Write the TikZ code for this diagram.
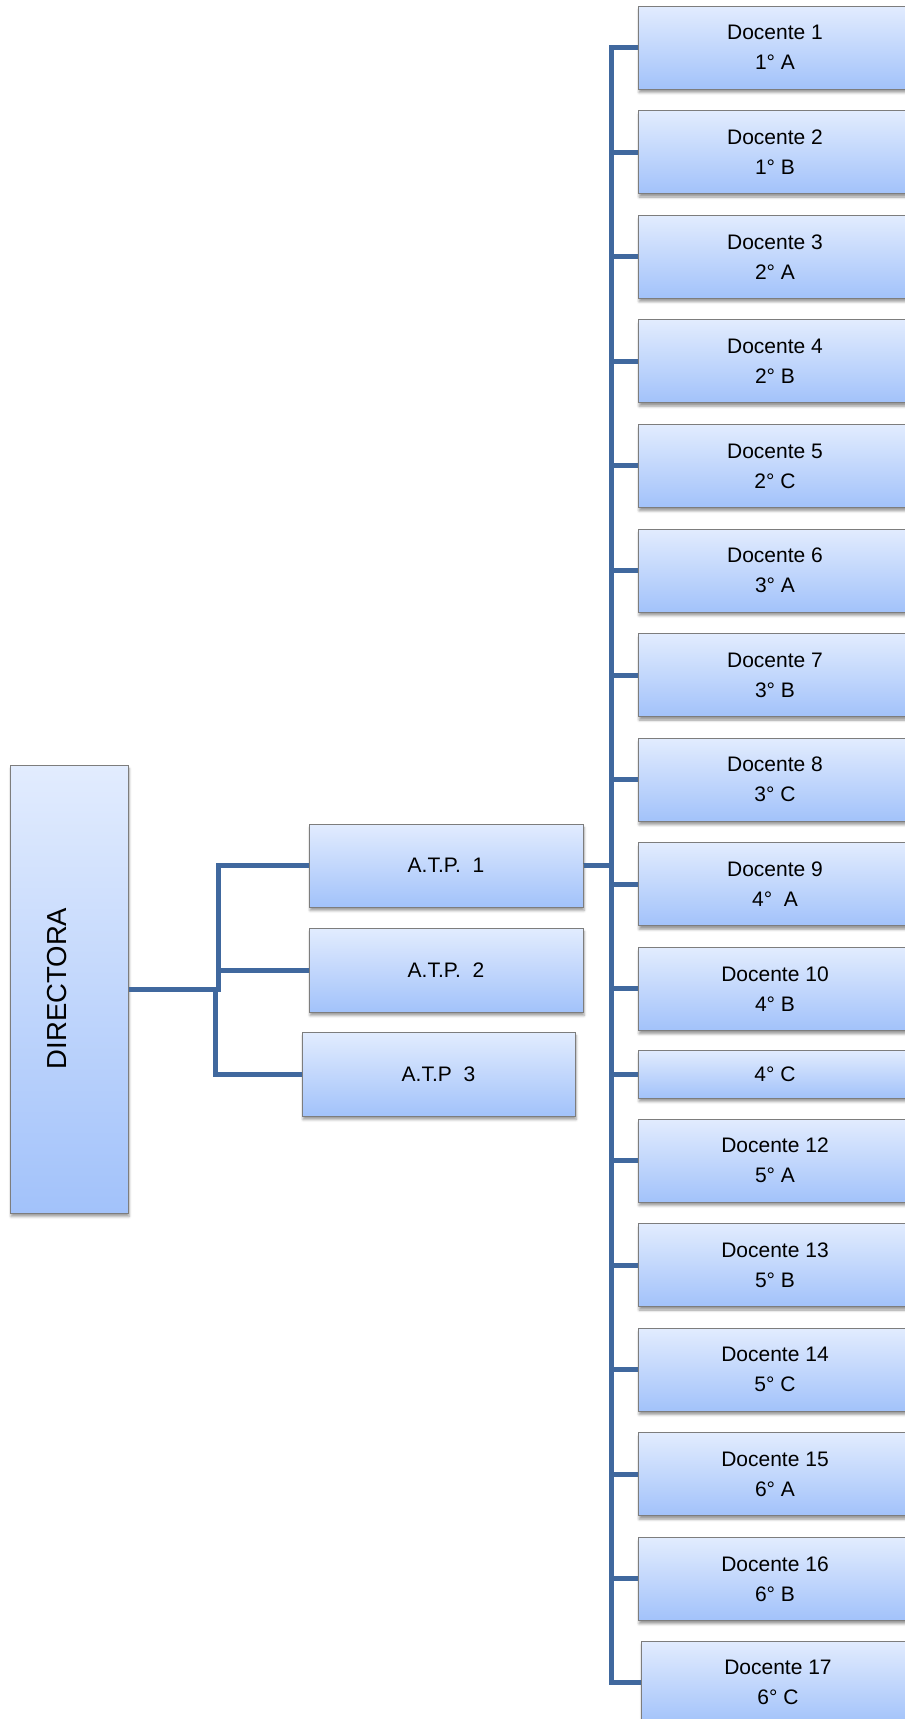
\documentclass[tikz,border=0pt]{standalone}
\usepackage{fontspec}
\setmainfont{Liberation Sans}
\usetikzlibrary{shadows.blur}
\definecolor{boxtop}{RGB}{226,236,254}
\definecolor{boxbot}{RGB}{162,194,250}
\definecolor{boxline}{RGB}{125,125,125}
\definecolor{conn}{RGB}{64,104,158}
\tikzset{
  orgbox/.style={draw=boxline, line width=1pt, top color=boxtop, bottom color=boxbot,
    inner sep=0pt, align=center, font=\fontsize{21}{30}\selectfont,
    blur shadow={shadow xshift=1pt, shadow yshift=-3.5pt, shadow blur radius=2.5pt, shadow opacity=40}},
  docbox/.style={orgbox, minimum width=274pt, minimum height=83pt},
  atpbox/.style={orgbox, minimum width=274pt, minimum height=83pt},
  link/.style={draw=conn, line width=5pt},
}
\begin{document}
\begin{tikzpicture}[x=1pt,y=-1pt]
\useasboundingbox (0,0) rectangle (905,1719);
\clip (0,0) rectangle (905,1719);

% Director
\node[orgbox, minimum width=118pt, minimum height=448pt] (dir) at (69,989) {};
\node[rotate=90, font=\fontsize{27.5}{30}\selectfont, inner sep=0pt] (dirlabel) at (57.5,988.5) {DIRECTORA};

% ATP boxes
\node[atpbox] (atp1) at (446,865.5) {A.T.P.\ \ 1};
\node[atpbox, minimum height=84pt] (atp2) at (446,970) {A.T.P.\ \ 2};
\node[atpbox, minimum width=273pt, minimum height=84pt] (atp3) at (438.5,1074) {A.T.P\ \ 3};

% Docente boxes
\foreach \k/\yy/\lab in {1/47.5/1° A, 2/152.1/1° B, 3/256.7/2° A, 4/361.3/2° B,
  5/465.9/2° C, 6/570.5/3° A, 7/675.1/3° B, 8/779.7/3° C, 9/884.3/4°\ \ A,
  10/988.9/4° B, 12/1160.5/5° A, 13/1265/5° B, 14/1369.6/5° C, 15/1474.2/6° A,
  16/1578.8/6° B}{
  \node[docbox] (d\k) at (775,\yy) {Docente \k\\\lab};
}
\node[docbox, minimum height=48pt] (d11) at (775,1074) {4° C};
\node[docbox] (d17) at (778,1682.5) {Docente 17\\6° C};

% Connectors director -> ATP
\coordinate (jA) at (218,989);
\coordinate (jB) at (215,989);
\draw[link] (dir.east) -- (jA) |- (atp1.west);
\draw[link] (jA) |- (atp2.west);
\draw[link] (jB) |- (atp3.west);

% Connectors ATP 1 -> Docentes
\coordinate (tr) at (611,865.5);
\foreach \k in {1,...,17}{
  \draw[link] (atp1.east) -- (tr) |- (d\k.west);
}
\end{tikzpicture}
\end{document}
